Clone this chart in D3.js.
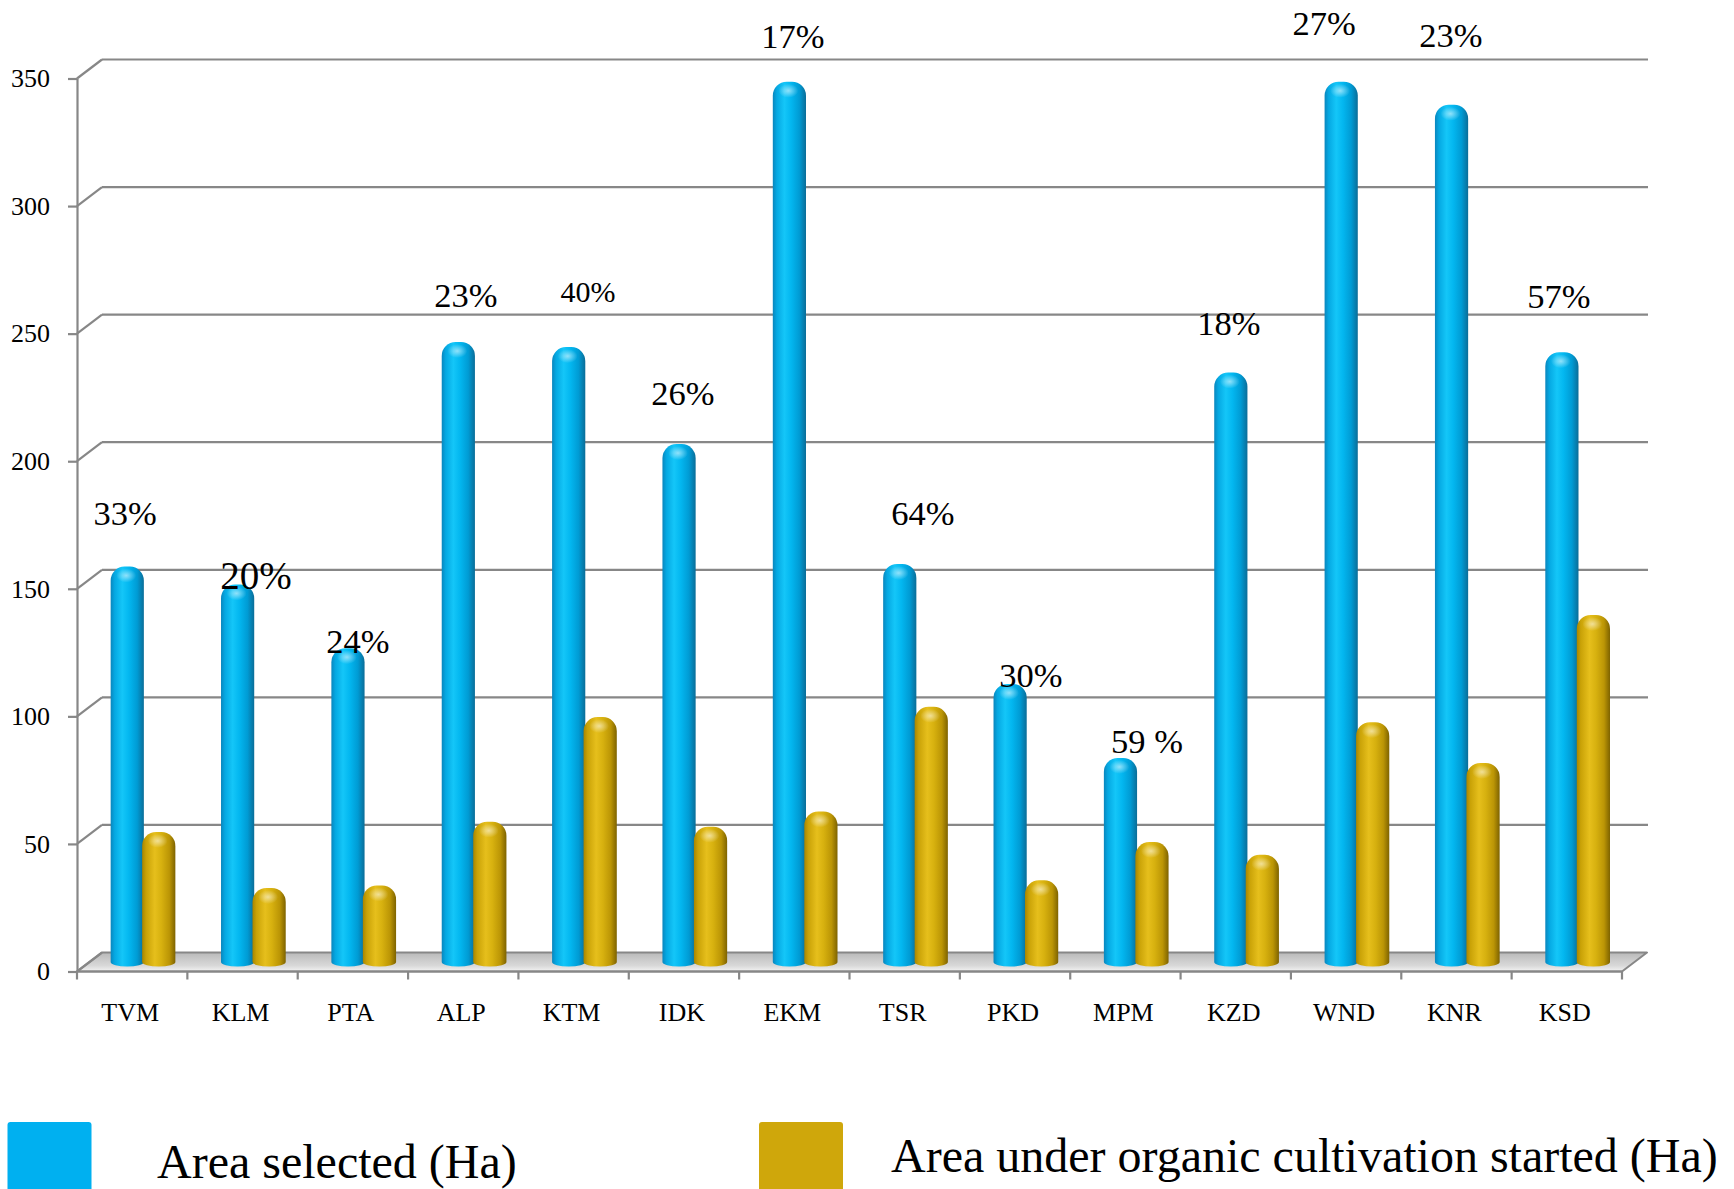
<!DOCTYPE html>
<html>
<head>
<meta charset="utf-8">
<script src="https://cdn.jsdelivr.net/npm/d3@7"></script>
<style>
  html, body { margin: 0; padding: 0; background: #ffffff; }
  svg { display: block; }
  text { font-family: "Liberation Serif", "Times New Roman", serif; fill: #000; }
</style>
</head>
<body>
<svg id="chart" width="1734" height="1189"></svg>
<script>
// ---------------- data ----------------
const categories = ["TVM", "KLM", "PTA", "ALP", "KTM", "IDK", "EKM", "TSR", "PKD", "MPM", "KZD", "WND", "KNR", "KSD"];
const areaSelected = [155, 148, 123, 243, 241, 203, 345, 156, 109, 80, 231, 345, 336, 239];
const areaOrganic  = [51, 29, 30, 55, 96, 53, 59, 100, 32, 47, 42, 94, 78, 136];
const pctLabels = ["33%", "20%", "24%", "23%", "40%", "26%", "17%", "64%", "30%", "59 %", "18%", "27%", "23%", "57%"];
const yTicks = [0, 50, 100, 150, 200, 250, 300, 350];
const seriesNames = ["Area selected (Ha)", "Area under organic cultivation started (Ha)"];
// free-floating percentage annotations: anchor in data units (Ha) and shift in band widths
const pctLabelAt = [175, 150, 125, 260.5, 262.4, 222, 362, 175, 111.5, 85.7, 249.5, 367, 362.4, 260];
const pctLabelShift = [-0.065, 0.122, 0.046, 0.024, 0.13, -0.009, -0.012, 0.166, 0.144, 0.196, -0.062, -0.2, -0.05, -0.072];

// ---------------- layout ----------------
const FONT = "Liberation Serif, Times New Roman, serif";
const svg = d3.select("#chart");
const X0 = 77, X1 = 1622;           // front plane extent
const DX = 25, DY = -19;            // depth offset of back wall
const x = d3.scaleBand().domain(categories).range([X0, X1]).paddingInner(0).paddingOuter(0);
const y = d3.scaleLinear().domain([0, 350]).range([971.5, 78.5]);
const bw = x.bandwidth();

const defs = svg.append("defs");
function hGrad(id, stops) {
  const g = defs.append("linearGradient").attr("id", id).attr("x1", "0%").attr("x2", "100%").attr("y1", "0%").attr("y2", "0%");
  stops.forEach(s => g.append("stop").attr("offset", s[0]).attr("stop-color", s[1]));
}
hGrad("blueGrad", [["0%", "#0a86bd"], ["12%", "#05a8e2"], ["35%", "#14c6f8"], ["55%", "#03b7f0"], ["80%", "#009bd4"], ["100%", "#0b6d98"]]);
hGrad("goldGrad", [["0%", "#a88500"], ["12%", "#c9a207"], ["38%", "#e6bf1c"], ["58%", "#d7b10f"], ["82%", "#bb9505"], ["100%", "#7e6300"]]);
const rg = defs.append("radialGradient").attr("id", "capHi").attr("cx", "50%").attr("cy", "50%").attr("r", "50%");
rg.append("stop").attr("offset", "0%").attr("stop-color", "#ffffff").attr("stop-opacity", 0.55);
rg.append("stop").attr("offset", "100%").attr("stop-color", "#ffffff").attr("stop-opacity", 0);
const fg = defs.append("linearGradient").attr("id", "floorGrad").attr("x1", "0").attr("x2", "0").attr("y1", "0").attr("y2", "1");
fg.append("stop").attr("offset", "0%").attr("stop-color", "#b9b9b9");
fg.append("stop").attr("offset", "70%").attr("stop-color", "#d9d9d9");
fg.append("stop").attr("offset", "100%").attr("stop-color", "#f4f4f4");

const gridColor = "#878787";

// floor
const y0 = y(0);
svg.append("path")
  .attr("d", `M${X0},${y0} L${X1},${y0} L${X1 + DX},${y0 + DY} L${X0 + DX},${y0 + DY} Z`)
  .attr("fill", "url(#floorGrad)")
  .attr("stroke", gridColor).attr("stroke-width", 2).attr("stroke-linejoin", "round");

// back wall gridlines + side wall diagonals
const grid = svg.append("g");
grid.selectAll("line.back").data(yTicks.filter(d => d > 0)).join("line")
  .attr("class", "back")
  .attr("x1", X0 + DX).attr("x2", X1 + DX + 1)
  .attr("y1", d => y(d) + DY).attr("y2", d => y(d) + DY)
  .attr("stroke", gridColor).attr("stroke-width", 2.2);
grid.selectAll("line.side").data(yTicks).join("line")
  .attr("class", "side")
  .attr("x1", X0).attr("x2", X0 + DX)
  .attr("y1", d => y(d)).attr("y2", d => y(d) + DY)
  .attr("stroke", gridColor).attr("stroke-width", 2.2);

// y axis
const yAxis = svg.append("g").attr("transform", `translate(${X0},0)`)
  .call(d3.axisLeft(y).tickValues(yTicks).tickSize(9).tickSizeOuter(0).tickPadding(18));
yAxis.select(".domain").attr("stroke", gridColor).attr("stroke-width", 2.2);
yAxis.selectAll(".tick line").attr("stroke", gridColor).attr("stroke-width", 2.2);
yAxis.selectAll(".tick text").attr("font-size", 26).attr("font-family", FONT).attr("fill", "#000");

// x axis: boundary ticks + category labels
const bounds = categories.map(c => x(c)).concat([X1]);
svg.append("g").selectAll("line").data(bounds).join("line")
  .attr("x1", d => d).attr("x2", d => d)
  .attr("y1", y0).attr("y2", y0 + 8)
  .attr("stroke", gridColor).attr("stroke-width", 2.2);
svg.append("line").attr("x1", X0).attr("x2", X1).attr("y1", y0).attr("y2", y0)
  .attr("stroke", gridColor).attr("stroke-width", 2.2);
svg.append("g").selectAll("text").data(categories).join("text")
  .attr("x", d => x(d) + bw / 2 - 2)
  .attr("y", 1021)
  .attr("text-anchor", "middle")
  .attr("font-family", FONT)
  .attr("font-size", 26)
  .text(d => d);

// cylinders
function cylPath(x0, w, yTop, yBot) {
  const r1 = w * 0.42, r2 = 14, rb = 4.5;
  return `M${x0},${yTop + r2} A${r1},${r2} 0 0 1 ${x0 + r1},${yTop} L${x0 + w - r1},${yTop} ` +
         `A${r1},${r2} 0 0 1 ${x0 + w},${yTop + r2} L${x0 + w},${yBot} A${w / 2},${rb} 0 0 1 ${x0},${yBot} Z`;
}
const barW = 33.2;
const blueOff = 0.305 * bw, goldOff = blueOff + 31.5;
const rows = categories.map((c, i) => ({ c, i, a: areaSelected[i], o: areaOrganic[i] }));
const bars = svg.append("g");
function drawSeries(key, off, grad) {
  const g = bars.append("g");
  g.selectAll("path").data(rows).join("path")
    .attr("d", d => cylPath(x(d.c) + off, barW, y(d[key]) + DY / 2, y0 + DY / 2))
    .attr("fill", `url(#${grad})`);
  g.selectAll("ellipse").data(rows).join("ellipse")
    .attr("cx", d => x(d.c) + off + barW * 0.47)
    .attr("cy", d => y(d[key]) + DY / 2 + 9)
    .attr("rx", barW * 0.3).attr("ry", 7)
    .attr("fill", "url(#capHi)");
}
drawSeries("a", blueOff, "blueGrad");
drawSeries("o", goldOff, "goldGrad");

// percentage annotations
const labelSize = i => (i === 1 ? 39 : i === 4 ? 30 : 34.5);
svg.append("g").selectAll("text").data(rows).join("text")
  .attr("x", d => x(d.c) + bw / 2 + pctLabelShift[d.i] * bw)
  .attr("y", d => y(pctLabelAt[d.i]))
  .attr("text-anchor", "middle")
  .attr("font-family", FONT)
  .attr("font-size", d => labelSize(d.i))
  .text(d => pctLabels[d.i]);

// legend
const legend = svg.append("g");
const legendColors = ["#00b0f0", "#cfa70b"];
const legendRects = [7.5, 759];
const legendText = [{ x: 157, y: 1178 }, { x: 891, y: 1172 }];
legend.selectAll("rect").data(seriesNames).join("rect")
  .attr("x", (d, i) => legendRects[i]).attr("y", 1122)
  .attr("width", 84).attr("height", 90).attr("rx", 3)
  .attr("fill", (d, i) => legendColors[i]);
legend.selectAll("text").data(seriesNames).join("text")
  .attr("x", (d, i) => legendText[i].x).attr("y", (d, i) => legendText[i].y)
  .attr("font-family", FONT)
  .attr("font-size", 48)
  .text(d => d);
</script>
</body>
</html>
